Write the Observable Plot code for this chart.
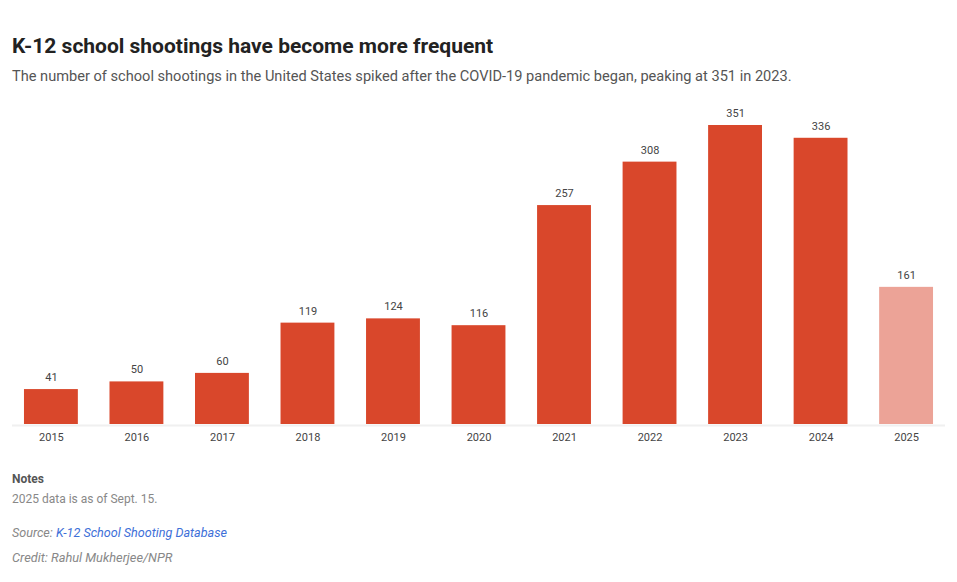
<!DOCTYPE html>
<html>
<head>
<meta charset="utf-8">
<script src="https://cdn.jsdelivr.net/npm/d3@7"></script>
<script src="https://cdn.jsdelivr.net/npm/@observablehq/plot@0.6"></script>
<style>
  html, body { margin: 0; padding: 0; background: #fff; }
  body { font-family: Roboto, "Noto Sans", sans-serif; width: 957px; }
  #wrap { padding: 0 12px; }
  h1 { margin: 0; padding-top: 33px; font-size: 21px; font-weight: 700; color: #222; line-height: 26px; }
  .sub { margin-top: 7px; font-size: 14.6px; color: #555; line-height: 20px; }
  #chart { margin-top: 14px; height: 354px; }
  .notes { margin-top: 18px; font-size: 12px; color: #555; }
  .notes b { display: block; font-size: 12px; color: #555; margin-bottom: 6px; }
  .notes .nt { color: #888; }
  .src { margin-top: 19px; font-size: 12.6px; font-style: italic; color: #888; }
  .src a { color: #3d6fd8; text-decoration: none; }
  .cred { margin-top: 10px; font-size: 12.8px; font-style: italic; color: #888; }
</style>
</head>
<body>
<div id="wrap">
  <h1>K-12 school shootings have become more frequent</h1>
  <div class="sub">The number of school shootings in the United States spiked after the COVID-19 pandemic began, peaking at 351 in 2023.</div>
  <div id="chart"></div>
  <div class="notes"><b>Notes</b><span class="nt">2025 data is as of Sept. 15.</span></div>
  <div class="src">Source: <a href="#">K-12 School Shooting Database</a></div>
  <div class="cred">Credit: Rahul Mukherjee/NPR</div>
</div>
<script>
const years = ["2015","2016","2017","2018","2019","2020","2021","2022","2023","2024","2025"];
const counts = [41, 50, 60, 119, 124, 116, 257, 308, 351, 336, 161];
const partial = [false, false, false, false, false, false, false, false, false, false, true];

const data = years.map((y, i) => ({year: y, count: counts[i], partial: partial[i]}));

const chart = Plot.plot({
  width: 933,
  height: 354,
  marginLeft: 0,
  marginRight: 0,
  marginTop: 25,
  marginBottom: 30,
  style: {fontFamily: "Roboto, sans-serif", fontSize: "11px", color: "#444", background: "#fff"},
  x: {domain: years, paddingInner: 0.37, paddingOuter: 0.14, round: false, label: null, tickSize: 0},
  y: {domain: [0, 351], axis: null},
  color: {domain: [false, true], range: ["#d9472b", "#eca397"]},
  marks: [
    Plot.barY(data, {x: "year", y: "count", fill: d => d.partial}),
    Plot.ruleY([0], {stroke: "#f0f0f0", strokeWidth: 2, dy: 1}),
    Plot.text(data, {x: "year", y: "count", text: d => String(d.count), dy: -12, fill: "#444", fontSize: 11}),
    Plot.axisX({tickSize: 0, tickPadding: 9, fill: "#444", fontSize: 11, label: null})
  ]
});
document.getElementById("chart").appendChild(chart);
</script>
</body>
</html>
